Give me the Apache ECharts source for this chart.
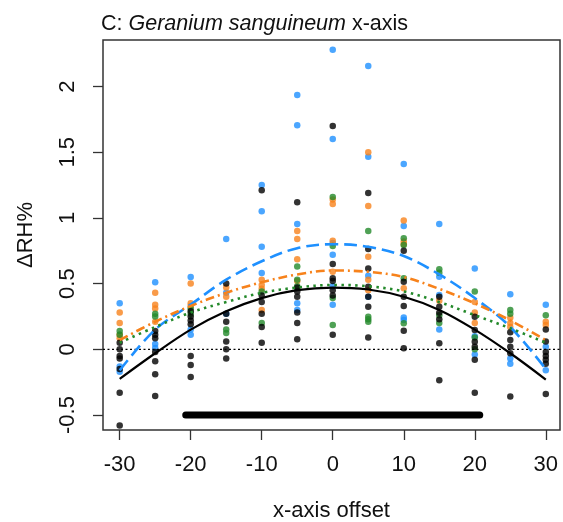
<!DOCTYPE html>
<html>
<head>
<meta charset="utf-8">
<script src="https://cdn.jsdelivr.net/npm/echarts@6/dist/echarts.min.js"></script>
<style>html,body{margin:0;padding:0;background:#fff;}#chart{width:563px;height:522px;}</style>
</head>
<body>
<div id="chart"></div>
<script>
// x positions (x-axis offset)
const xPos = [-30, -25, -20, -15, -10, -5, 0, 5, 10, 15, 20, 25, 30];
const xTicks = [-30, -20, -10, 0, 10, 20, 30];
const yTicks = [-0.5, 0, 0.5, 1, 1.5, 2];

// observed points per x position
const blueVals = [
  [0.35, -0.13, -0.17], [0.51, 0.04, 0.01], [0.55, 0.15, 0.11], [0.84, 0.43, 0.27],
  [1.25, 1.05, 0.78, 0.58], [1.935, 1.705, 0.953, 0.35, 0.30], [2.28, 1.60, 0.81, 0.72, 0.48, 0.34],
  [2.156, 1.466, 0.56, 0.40], [1.41, 0.938, 0.243, 0.223], [0.953, 0.553, 0.413, 0.15],
  [0.616, 0.10, -0.04], [0.42, -0.07, -0.11], [0.34, 0.02, -0.16]
];
const orangeVals = [
  [0.28, 0.20, 0.11, 0.085], [0.43, 0.34, 0.31, 0.21], [0.50, 0.35, 0.33], [0.47, 0.40],
  [0.53, 0.49, 0.46, 0.30], [0.90, 0.84, 0.685, 0.52], [1.14, 1.105, 0.826, 0.59],
  [1.50, 1.09, 0.705, 0.53, 0.45], [0.98, 0.82, 0.80, 0.464], [0.37],
  [0.36, 0.28, 0.20], [0.24, 0.20, 0.17], [0.21, 0.185]
];
const greenVals = [
  [0.14, 0.11], [0.27, 0.25], [0.31, 0.27], [0.15, 0.125],
  [0.44, 0.20], [0.63, 0.53, 0.48], [1.16, 0.786, 0.39, 0.185],
  [0.90, 0.248, 0.228, 0.21], [0.845, 0.794, 0.54, 0.198], [0.61, 0.583, 0.26, 0.20],
  [0.44, 0.09, 0.0], [0.30, 0.27], [0.26]
];
const blackVals = [
  [0.05, 0.0, -0.05, -0.07, -0.15, -0.33, -0.58], [0.14, 0.11, 0.085, -0.02, -0.09, -0.19, -0.355],
  [0.29, 0.25, 0.22, 0.19, -0.05, -0.12, -0.21], [0.50, 0.27, 0.21, 0.06, 0.0, -0.07],
  [1.21, 0.41, 0.36, 0.27, 0.17, 0.05], [1.12, 0.47, 0.44, 0.40, 0.28, 0.20, 0.076],
  [1.70, 0.65, 0.54, 0.52, 0.45, 0.41, 0.11], [1.19, 0.763, 0.616, 0.476, 0.40, 0.324, 0.09],
  [0.75, 0.514, 0.40, 0.33, 0.142, 0.008], [0.40, 0.324, 0.279, 0.228, 0.046, -0.235],
  [0.248, 0.147, 0.058, 0.02, -0.08, -0.33], [0.13, 0.07, 0.02, -0.03, -0.36],
  [0.15, 0.06, -0.02, -0.05, -0.08, -0.11, -0.34]
];

// fitted curves read at each x position
const blueFit = [-0.16, 0.15, 0.34, 0.53, 0.67, 0.77, 0.80, 0.78, 0.71, 0.57, 0.39, 0.17, -0.15];
const orangeFit = [0.07, 0.21, 0.33, 0.43, 0.51, 0.57, 0.60, 0.59, 0.55, 0.46, 0.35, 0.22, 0.07];
const greenFit = [0.05, 0.17, 0.28, 0.36, 0.43, 0.47, 0.49, 0.48, 0.44, 0.36, 0.26, 0.16, 0.05];
const blackFit = [-0.225, -0.03, 0.15, 0.29, 0.39, 0.45, 0.47, 0.455, 0.40, 0.30, 0.15, -0.03, -0.23];

// significance bar
const barX = [-20.7, 20.7];
const barY = -0.5;

const COL = { blue: '#1e90ff', orange: '#f7821b', green: '#23892a', black: '#000000' };
const FONT = 'Liberation Sans, Arial, sans-serif';

function pts(vals) {
  const out = [];
  vals.forEach((arr, i) => arr.forEach(v => out.push([xPos[i], v])));
  return out;
}
function curve(fit) { return fit.map((v, i) => [xPos[i], v]); }

function scatter(name, vals, color, z) {
  return { name, type: 'scatter', data: pts(vals), symbol: 'circle', symbolSize: 6.5,
    itemStyle: { color }, z, silent: true, animation: false };
}
function line(name, fit, color, type, width) {
  return { name, type: 'line', data: curve(fit), smooth: 0.35, showSymbol: false, symbol: 'none',
    lineStyle: { color, width, type }, z: 10, silent: true, animation: false };
}

const chart = echarts.init(document.getElementById('chart'), null, { renderer: 'canvas' });
chart.setOption({
  animation: false,
  backgroundColor: '#fff',
  textStyle: { fontFamily: FONT },
  title: {
    text: '{n|C: }{i|Geranium sanguineum}{n| x-axis}',
    left: 96, top: 8,
    textStyle: { fontWeight: 'normal', rich: {
      n: { fontFamily: FONT, fontSize: 21.5, fontWeight: 'normal', color: '#111' },
      i: { fontFamily: FONT, fontSize: 21.5, fontWeight: 'normal', fontStyle: 'italic', color: '#111' }
    } }
  },
  grid: { left: 103, right: 3, top: 40, bottom: 92, show: true, borderColor: '#333', borderWidth: 1.5,
    backgroundColor: 'transparent', containLabel: false, outerBoundsMode: 'none' },
  xAxis: {
    type: 'value', min: -32.35, max: 32.0,
    name: 'x-axis offset', nameLocation: 'middle', nameGap: 70,
    nameTextStyle: { fontFamily: FONT, fontSize: 22, color: '#111' },
    axisLine: { show: false, onZero: false },
    axisTick: { show: true, length: 10, inside: false, customValues: xTicks, lineStyle: { color: '#333', width: 1.3 } },
    axisLabel: { customValues: xTicks, margin: 24, fontFamily: FONT, fontSize: 22, color: '#111' },
    splitLine: { show: false }
  },
  yAxis: {
    type: 'value', min: -0.614, max: 2.354,
    name: 'ΔRH%', nameLocation: 'middle', nameGap: 66, nameRotate: 90,
    nameTextStyle: { fontFamily: FONT, fontSize: 22, color: '#111' },
    axisLine: { show: false, onZero: false },
    axisTick: { show: true, length: 10, inside: false, customValues: yTicks, lineStyle: { color: '#333', width: 1.3 } },
    axisLabel: { customValues: yTicks, rotate: 90, align: 'center', verticalAlign: 'bottom', margin: 24,
      fontFamily: FONT, fontSize: 22, color: '#111' },
    splitLine: { show: false }
  },
  series: [
    scatter('blue', blueVals, COL.blue, 2),
    scatter('orange', orangeVals, COL.orange, 3),
    scatter('green', greenVals, COL.green, 4),
    scatter('black', blackVals, COL.black, 5),
    { name: 'zero', type: 'line', data: [[-32.35, 0], [32.0, 0]], showSymbol: false, symbol: 'none',
      lineStyle: { color: '#000', width: 1.2, type: [2, 2.5] }, z: 6, silent: true, animation: false },
    line('blueFit', blueFit, COL.blue, [13, 6], 2.6),
    line('orangeFit', orangeFit, COL.orange, [9, 4, 2, 4], 2.6),
    line('greenFit', greenFit, COL.green, [2.5, 4.5], 2.6),
    line('blackFit', blackFit, COL.black, 'solid', 2.2),
    { name: 'bar', type: 'line', data: [[barX[0], barY], [barX[1], barY]], showSymbol: false, symbol: 'none',
      lineStyle: { color: '#000', width: 7, cap: 'round' }, z: 11, silent: true, animation: false }
  ]
});
</script>
</body>
</html>
